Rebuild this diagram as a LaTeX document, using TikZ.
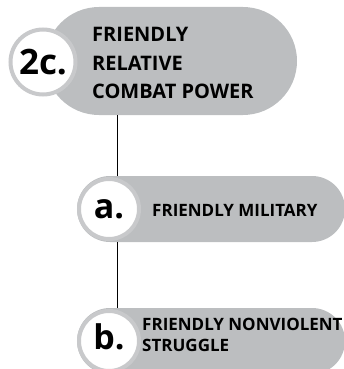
\documentclass[tikz,border=0pt]{standalone}
\usepackage{fontspec}
\setmainfont{Open Sans}
\usepackage{xcolor}
\usetikzlibrary{shapes.misc, positioning}

\definecolor{gris}{RGB}{188,190,192}
\definecolor{grisclair}{RGB}{200,201,203}

\begin{document}
\begin{tikzpicture}[x=1pt, y=-1pt]
    % Styles
    \tikzset{
        pilule/.style   = {rounded rectangle, fill=gris, minimum height=66pt, inner sep=0pt},
        pastille/.style = {circle, draw=grisclair, line width=4pt, fill=white, minimum size=60pt, inner sep=0pt, font=\bfseries\fontsize{34}{34}\selectfont},
        titre/.style    = {anchor=west, align=left, inner sep=0pt, font=\bfseries\fontsize{17}{21}\selectfont},
        line/.style     = {draw, line width=1.3pt}
    }
    \useasboundingbox (0,0) rectangle (344,369);

    % Niveau principal
    \node [pilule, minimum width=252pt, minimum height=108pt] (pill2c) at (171,61) {};
    \node [pastille, minimum size=65pt, font=\bfseries\fontsize{35}{35}\selectfont] (num2c) at (43,62) {2c.};
    \node [titre, font=\bfseries\fontsize{20}{28.5}\selectfont] (txt2c) at (92,63) {FRIENDLY\\RELATIVE\\COMBAT POWER};

    % Sous-niveaux
    \node [pilule, minimum width=268pt] (pilla) at (211,209) {};
    \node [pastille] (numa) at (109,209) {a.};
    \node [titre] (txta) at (152,210) {FRIENDLY MILITARY};

    \node [pilule, minimum width=268pt] (pillb) at (211,341) {};
    \node [pastille] (numb) at (109,341) {\raisebox{8pt}{b.}};
    \node [titre] (txtb) at (142,335) {FRIENDLY NONVIOLENT\\STRUGGLE};

    % Connexions
    \coordinate (axe) at (117.5,0);
    \path [line] (pill2c.south -| axe) -- (pilla.north -| axe);
    \path [line] (pilla.south -| axe) -- (pillb.north -| axe);
\end{tikzpicture}
\end{document}
